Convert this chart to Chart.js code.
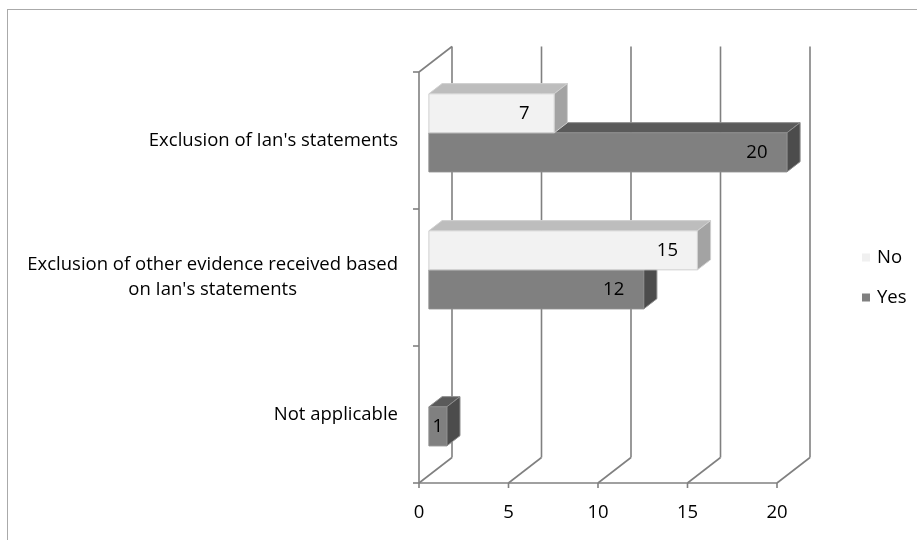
<!DOCTYPE html>
<html lang="en">
<head>
  <meta charset="UTF-8" />
  <title>Exclusion of evidence</title>
  <script src="https://cdn.jsdelivr.net/npm/chart.js"></script>
  <style>
    html, body { margin: 0; padding: 0; background: #fff; overflow: hidden; }
    #wrap { position: relative; width: 917px; height: 540px; }
    #frame {
      position: absolute; left: 7px; top: 9px; width: 940px; height: 560px;
      border: 1.5px solid #aaaaaa; box-sizing: border-box;
    }
    canvas { position: absolute; left: 0; top: 0; }
  </style>
</head>
<body>
  <div id="wrap">
    <div id="frame"></div>
    <canvas id="chart" width="917" height="540"></canvas>
  </div>

  <script>
    const categories = [
      "Exclusion of Ian's statements",
      "Exclusion of other evidence received based|on Ian's statements",
      "Not applicable"
    ];
    const noValues = [7, 15, null];
    const yesValues = [20, 12, 1];
    const xTicks = [0, 5, 10, 15, 20];

    const FONT = '"Open Sans", sans-serif';
    const FONT_SIZE = 18.5;
    const GRID = '#808080';

    // depth of the 3D box (back wall offset), bars sit between 30% and 70% of it
    const DEPTH_X = 33, DEPTH_Y = -25.5;
    const BAR_FRONT = 0.3, BAR_BACK = 0.7;

    function line(ctx, x1, y1, x2, y2) {
      ctx.beginPath();
      ctx.moveTo(x1, y1);
      ctx.lineTo(x2, y2);
      ctx.stroke();
    }

    function poly(ctx, pts, fill, stroke) {
      ctx.beginPath();
      ctx.moveTo(pts[0][0], pts[0][1]);
      pts.slice(1).forEach(p => ctx.lineTo(p[0], p[1]));
      ctx.closePath();
      ctx.fillStyle = fill;
      ctx.fill();
      ctx.strokeStyle = stroke;
      ctx.lineWidth = 1;
      ctx.stroke();
    }

    const box3d = {
      id: 'box3d',
      beforeDatasetsDraw(chart) {
        const { ctx, chartArea: a, scales: { x, y } } = chart;
        ctx.save();

        // walls, floor and tick marks
        ctx.strokeStyle = GRID;
        ctx.lineWidth = 1.6;
        xTicks.forEach(v => {
          const px = x.getPixelForValue(v);
          line(ctx, px, a.bottom, px + DEPTH_X, a.bottom + DEPTH_Y);
          line(ctx, px + DEPTH_X, a.bottom + DEPTH_Y, px + DEPTH_X, a.top + DEPTH_Y);
          line(ctx, px, a.bottom, px, a.bottom + 5);
        });
        line(ctx, a.left, a.bottom, a.right, a.bottom);
        line(ctx, a.left, a.top, a.left, a.bottom);
        line(ctx, a.left, a.top, a.left + DEPTH_X, a.top + DEPTH_Y);
        for (let i = 0; i <= categories.length; i++) {
          const py = y.getPixelForValue(i - 0.5);
          line(ctx, a.left - 6, py, a.left, py);
        }

        // category labels: block right-aligned, lines centred within it
        ctx.font = FONT_SIZE + 'px ' + FONT;
        ctx.fillStyle = '#000';
        ctx.textBaseline = 'middle';
        categories.forEach((c, i) => {
          const lines = c.split('|');
          const w = Math.max(...lines.map(l => ctx.measureText(l).width));
          const cx = a.left - 21 - w / 2;
          const cy = y.getPixelForValue(i);
          ctx.textAlign = 'center';
          lines.forEach((l, k) => {
            ctx.fillText(l, cx, cy + (k - (lines.length - 1) / 2) * 25);
          });
        });

        // bars, drawn bottom-up so upper front faces cover lower top faces
        const fx = DEPTH_X * BAR_FRONT, fy = DEPTH_Y * BAR_FRONT;
        const dx = DEPTH_X * (BAR_BACK - BAR_FRONT), dy = DEPTH_Y * (BAR_BACK - BAR_FRONT);
        const items = [];
        chart.data.datasets.forEach((ds, di) => {
          chart.getDatasetMeta(di).data.forEach((bar, i) => {
            if (ds.data[i] != null) items.push({ ds, bar, value: ds.data[i] });
          });
        });
        items.sort((p, q) => q.bar.y - p.bar.y);
        items.forEach(({ ds, bar, value }) => {
          const p = bar.getProps(['x', 'y', 'base', 'height'], true);
          const x0 = p.base + fx, x1 = p.x + fx;
          const y0 = p.y - p.height / 2 + fy, y1 = p.y + p.height / 2 + fy;
          poly(ctx, [[x0, y0], [x0 + dx, y0 + dy], [x1 + dx, y0 + dy], [x1, y0]], ds.topColor, ds.edgeColor);
          poly(ctx, [[x1, y0], [x1 + dx, y0 + dy], [x1 + dx, y1 + dy], [x1, y1]], ds.sideColor, ds.edgeColor);
          poly(ctx, [[x0, y0], [x1, y0], [x1, y1], [x0, y1]], ds.backgroundColor, ds.edgeColor);

          const w = x1 - x0;
          const lx = w < 50 ? x0 + w / 2 : x1 - 30;
          ctx.fillStyle = '#000';
          ctx.textAlign = 'center';
          ctx.textBaseline = 'middle';
          ctx.font = FONT_SIZE + 'px ' + FONT;
          ctx.fillText(String(value), lx, (y0 + y1) / 2);
        });

        ctx.restore();
        return false;
      },
      afterDraw(chart) {
        const { ctx, chartArea: a } = chart;
        ctx.save();
        ctx.font = FONT_SIZE + 'px ' + FONT;
        ctx.textBaseline = 'middle';
        ctx.textAlign = 'left';
        const mid = (a.top + a.bottom) / 2;
        chart.data.datasets.forEach((ds, i) => {
          const cy = mid - 20 + i * 40;
          ctx.fillStyle = ds.legendColor;
          ctx.fillRect(a.right + 85, cy - 4, 8, 8);
          ctx.fillStyle = '#000';
          ctx.fillText(ds.label, a.right + 100, cy);
        });
        ctx.restore();
      }
    };

    new Chart(document.getElementById('chart'), {
      type: 'bar',
      data: {
        labels: categories,
        datasets: [
          {
            label: 'No',
            data: noValues,
            backgroundColor: '#f2f2f2',
            topColor: '#bdbdbd',
            sideColor: '#a3a3a3',
            edgeColor: '#d0d0d0',
            legendColor: '#f0f0f0'
          },
          {
            label: 'Yes',
            data: yesValues,
            backgroundColor: '#808080',
            topColor: '#5a5a5a',
            sideColor: '#4c4c4c',
            edgeColor: '#8c8c8c',
            legendColor: '#808080'
          }
        ]
      },
      options: {
        indexAxis: 'y',
        responsive: false,
        animation: false,
        categoryPercentage: 0.57,
        barPercentage: 1,
        layout: { padding: { top: 72, right: 140, left: 0, bottom: 0 } },
        plugins: {
          legend: { display: false },
          tooltip: { enabled: false }
        },
        scales: {
          x: {
            min: 0,
            max: 20,
            grid: { display: false },
            border: { display: false },
            ticks: {
              stepSize: 5,
              padding: 11,
              color: '#000',
              font: { family: FONT, size: FONT_SIZE }
            },
            afterFit(scale) { scale.height = 57; }
          },
          y: {
            grid: { display: false },
            border: { display: false },
            ticks: { display: false },
            afterFit(scale) { scale.width = 419; }
          }
        }
      },
      plugins: [box3d]
    });
  </script>
</body>
</html>
